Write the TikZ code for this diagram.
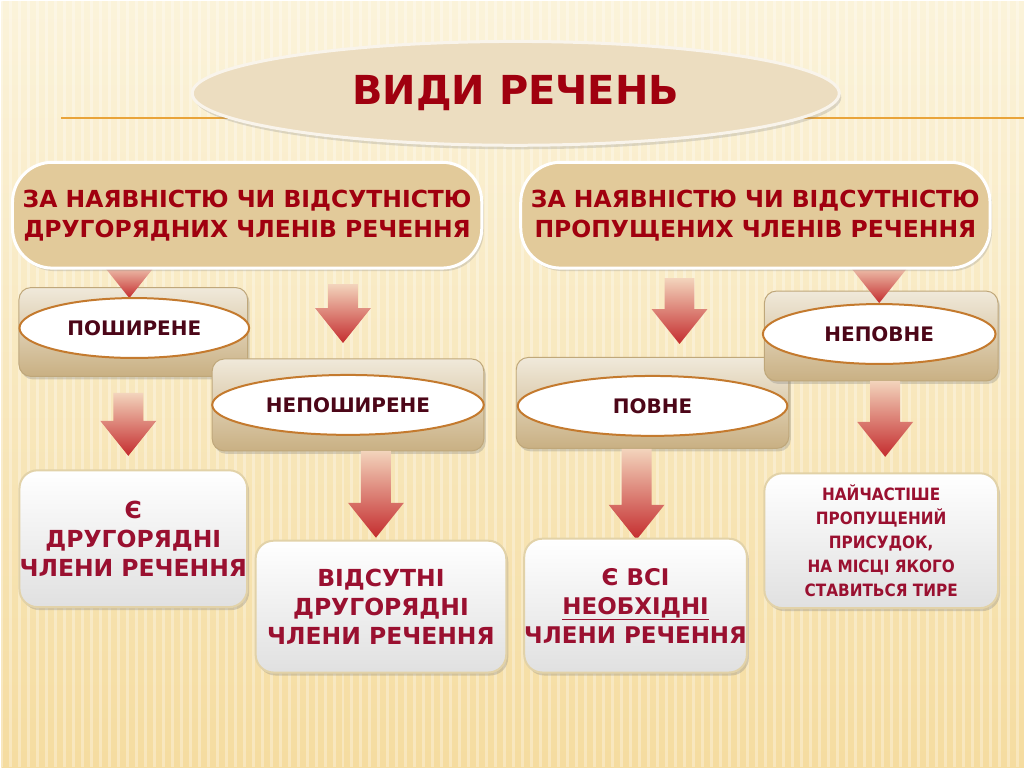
\documentclass[tikz,border=0pt]{standalone}
\usepackage{fontspec}
\setmainfont{DejaVu Sans}
\newfontfamily\narrowfont{DejaVu Sans Condensed}
\usepackage{xcolor}
\usepackage{tikz}
\usetikzlibrary{calc,positioning,shapes.geometric,shadows}

\definecolor{bgtop}{HTML}{FBF3DA}
\definecolor{bgbot}{HTML}{F5DCA0}
\definecolor{rimline}{HTML}{E9A43A}
\definecolor{titlered}{HTML}{A0000F}
\definecolor{catfill}{HTML}{E2CA9A}
\definecolor{titlefill}{HTML}{ECDDC0}
\definecolor{boxtop}{HTML}{F0E9DA}
\definecolor{boxbot}{HTML}{C9B083}
\definecolor{boxrim}{HTML}{BFA77A}
\definecolor{ellrim}{HTML}{C47A2E}
\definecolor{maroon}{HTML}{4C0618}
\definecolor{resred}{HTML}{9A1030}
\definecolor{resrim}{HTML}{E2D2A8}
\definecolor{arrtop}{HTML}{F3D4BC}
\definecolor{arrbot}{HTML}{C42C2E}

% shaded block arrow from #1 down to its tip #2
\newcommand{\fatarrow}[2]{%
  \shade[top color=arrtop,bottom color=arrbot]
    let \p1=(#1), \p2=(#2) in
    (\x1-15pt,\y1) -- (\x1+15pt,\y1) -- (\x1+15pt,\y2+35pt) -- (\x1+28pt,\y2+35pt)
    -- (\x2,\y2) -- (\x1-28pt,\y2+35pt) -- (\x1-15pt,\y2+35pt) -- cycle;
}

\begin{document}
\begin{tikzpicture}[
      x=1pt,y=-1pt,
      titleell/.style={ellipse,fill=titlefill,draw=white!80!catfill,line width=3pt,
        minimum width=648pt,minimum height=104pt,text=titlered,
        font=\fontsize{40}{44}\selectfont\bfseries,
        drop shadow={shadow xshift=2pt,shadow yshift=-4pt,opacity=0.25}},
      catbox/.style={rounded corners=40pt,fill=catfill,draw=white,line width=3pt,
        minimum width=470pt,minimum height=106pt,align=center,text=titlered,
        font=\fontsize{23.5}{30}\selectfont\bfseries,
        drop shadow={shadow xshift=2pt,shadow yshift=-3pt,opacity=0.25}},
      kindbox/.style={rounded corners=12pt,top color=boxtop,bottom color=boxbot,
        draw=boxrim,line width=1pt,
        drop shadow={shadow xshift=2pt,shadow yshift=-3pt,opacity=0.3}},
      kindell/.style={ellipse,fill=white,draw=ellrim,line width=2pt,inner sep=0pt,
        minimum height=60pt,text=maroon,font=\fontsize{20}{24}\selectfont\bfseries},
      resbox/.style={rounded corners=18pt,top color=white,bottom color=gray!24,
        draw=resrim,line width=2pt,align=center,text=resred,inner xsep=0pt,
        font=\fontsize{23.5}{29}\selectfont\bfseries,
        drop shadow={shadow xshift=2pt,shadow yshift=-3pt,opacity=0.3}}
]
% background
\shade[top color=bgtop,bottom color=bgbot] (0,0) rectangle (1024,767);
\foreach \i in {0,9,...,1024}
  \draw[white,opacity=0.3,line width=3pt] (\i,0) -- (\i,767);
\useasboundingbox (0,0) rectangle (1024,767);

% boxes of the four kinds
\node[kindbox,minimum width=229pt,minimum height=89pt] (wideb) at (132,331) {};
\node[kindbox,minimum width=272pt,minimum height=92pt] (bareb) at (347,404) {};
\node[kindbox,minimum width=273pt,minimum height=91pt] (fullb) at (652,402) {};
\node[kindbox,minimum width=234pt,minimum height=90pt] (partb) at (881,335) {};

% arrows
\coordinate (a1s) at (128,262); \coordinate (a1t) at (128,297);
\coordinate (a2s) at (342,283); \coordinate (a2t) at (342,342);
\coordinate (a3s) at (679,277); \coordinate (a3t) at (679,343);
\coordinate (a4s) at (879,262); \coordinate (a4t) at (879,302);
\coordinate (a5s) at (127,392); \coordinate (a5t) at (127,455);
\coordinate (a6s) at (375,450); \coordinate (a6t) at (375,537);
\coordinate (a7s) at (636,448); \coordinate (a7t) at (636,539);
\coordinate (a8s) at (885,380); \coordinate (a8t) at (885,456);
\fatarrow{a1s}{a1t}
\fatarrow{a2s}{a2t}
\fatarrow{a3s}{a3t}
\fatarrow{a4s}{a4t}
\fatarrow{a5s}{a5t}
\fatarrow{a6s}{a6t}
\fatarrow{a7s}{a7t}
\fatarrow{a8s}{a8t}

\node[kindell,minimum width=230pt] (wide) at (133,327) {ПОШИРЕНЕ};
\node[kindell,minimum width=272pt] (bare) at (347,404) {НЕПОШИРЕНЕ};
\node[kindell,minimum width=270pt] (full) at (652,405) {ПОВНЕ};
\node[kindell,minimum width=233pt] (part) at (879,333) {НЕПОВНЕ};

% two criteria
\node[catbox] (minor) at (246,214) {ЗА НАЯВНІСТЮ ЧИ ВІДСУТНІСТЮ\\ДРУГОРЯДНИХ ЧЛЕНІВ РЕЧЕННЯ};
\node[catbox] (omit) at (755,214) {ЗА НАЯВНІСТЮ ЧИ ВІДСУТНІСТЮ\\ПРОПУЩЕНИХ ЧЛЕНІВ РЕЧЕННЯ};

% title
\draw[rimline,line width=2pt] (60,117) -- (1024,117);
\node[titleell] (title) at (515,92) {ВИДИ РЕЧЕНЬ};

% results
\node[resbox,minimum width=228pt,minimum height=137pt] (hasmin) at (132,538)
  {Є\\ДРУГОРЯДНІ\\ЧЛЕНИ РЕЧЕННЯ};
\node[resbox,minimum width=251pt,minimum height=132pt] (nomin) at (380,606)
  {ВІДСУТНІ\\ДРУГОРЯДНІ\\ЧЛЕНИ РЕЧЕННЯ};
\node[resbox,minimum width=222pt,minimum height=134pt,
      font=\fontsize{23}{29}\selectfont\bfseries] (allmain) at (635,605)
  {Є ВСІ\\\underline{НЕОБХІДНІ}\\ЧЛЕНИ РЕЧЕННЯ};
\node[resbox,minimum width=234pt,minimum height=135pt,
      font=\narrowfont\fontsize{17}{24}\selectfont\bfseries] (dash) at (881,540)
  {НАЙЧАСТІШЕ\\ПРОПУЩЕНИЙ\\ПРИСУДОК,\\НА МІСЦІ ЯКОГО\\СТАВИТЬСЯ ТИРЕ};
\end{tikzpicture}
\end{document}
